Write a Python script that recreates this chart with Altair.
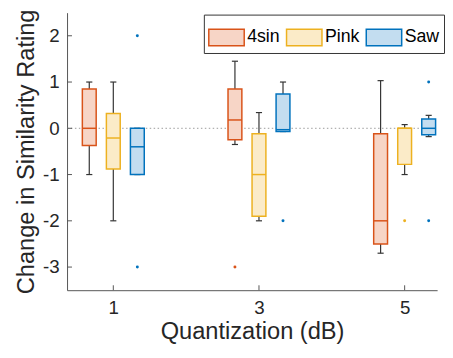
import altair as alt
import pandas as pd

# ---- data ----
groups = [1, 3, 5]
types = ["4sin", "Pink", "Saw"]
# per (group, type): lower whisker, q1, median, q3, upper whisker
lo_whisk = {"4sin": [-1.0, -0.35, -2.7], "Pink": [-2.0, -2.0, -1.0], "Saw": [-1.0, -0.07, -0.18]}
q1_vals = {"4sin": [-0.37, -0.25, -2.5], "Pink": [-0.88, -1.9, -0.78], "Saw": [-1.0, -0.07, -0.14]}
med_vals = {"4sin": [0.0, 0.18, -2.0], "Pink": [-0.21, -1.0, 0.0], "Saw": [-0.4, -0.03, 0.0]}
q3_vals = {"4sin": [0.85, 0.85, -0.12], "Pink": [0.32, -0.12, 0.0], "Saw": [0.0, 0.74, 0.2]}
hi_whisk = {"4sin": [1.0, 1.45, 1.03], "Pink": [1.0, 0.34, 0.08], "Saw": [0.0, 1.0, 0.28]}
out_group = [1, 1, 3, 3, 5, 5, 5]
out_type = ["Saw", "Saw", "4sin", "Saw", "Pink", "Saw", "Saw"]
out_value = [2.0, -3.0, -3.0, -2.0, -2.0, 1.0, -2.0]
y_ticks = [-3, -2, -1, 0, 1, 2]
x_ticks = [1, 3, 5]

edge_colors = ["#D95319", "#EDB120", "#0072BD"]
fill_colors = ["#F7D5C6", "#FBEBC8", "#C3DDF0"]

# ---- layout helpers ----
offset = {"4sin": -0.33, "Pink": 0.0, "Saw": 0.33}
hw = 0.095   # half box width (x units)
cw = 0.042   # half cap width

rows = []
for t in types:
    for i, g in enumerate(groups):
        c = g + offset[t]
        rows.append(dict(type=t, c=c, l=c - hw, r=c + hw, cl=c - cw, cr=c + cw,
                         lo=lo_whisk[t][i], q1=q1_vals[t][i], med=med_vals[t][i],
                         q3=q3_vals[t][i], hi=hi_whisk[t][i]))
df = pd.DataFrame(rows)
dout = pd.DataFrame({"type": out_type,
                     "x": [g + offset[t] for g, t in zip(out_group, out_type)],
                     "v": out_value})

W, H = 376, 282
xs = alt.Scale(domain=[0.365, 5.446], nice=False, zero=False)
ys = alt.Scale(domain=[-3.5, 2.5], nice=False, zero=False)
FONT = "Liberation Sans"
TXT = "#262626"

base = alt.Chart(df)

zero = alt.Chart(pd.DataFrame({"z": [0]})).mark_rule(
    color="#9a9a9a", strokeDash=[1.5, 2.5], strokeWidth=1
).encode(y=alt.Y("z:Q", scale=ys), x=alt.value(0), x2=alt.value(W))

whisk_lo = base.mark_rule(color="#333333", strokeWidth=1.2).encode(
    x=alt.X("c:Q", scale=xs, axis=alt.Axis(values=x_ticks, title="Quantization (dB)",
                                          labelExpr="'' + datum.value",
                                          tickSize=0, labelPadding=9, titlePadding=2,
                                          domainColor="#555555", grid=False,
                                          labelFontSize=19, titleFontSize=24,
                                          labelFont=FONT, titleFont=FONT,
                                          labelColor=TXT, titleColor=TXT, titleFontWeight="normal")),
    y=alt.Y("lo:Q", scale=ys, axis=alt.Axis(values=y_ticks, title="Change in Similarity Rating",
                                           labelExpr="'' + datum.value",
                                           tickSize=0, labelPadding=8, titlePadding=4,
                                           domainColor="#555555", grid=False,
                                           labelFontSize=19, titleFontSize=24,
                                           labelFont=FONT, titleFont=FONT,
                                           labelColor=TXT, titleColor=TXT, titleFontWeight="normal")),
    y2="q1:Q",
)
whisk_hi = base.mark_rule(color="#333333", strokeWidth=1.2).encode(
    x=alt.X("c:Q", scale=xs), y=alt.Y("q3:Q", scale=ys), y2="hi:Q")
cap_lo = base.mark_rule(color="#333333", strokeWidth=1.2).encode(
    x=alt.X("cl:Q", scale=xs), x2="cr:Q", y=alt.Y("lo:Q", scale=ys))
cap_hi = base.mark_rule(color="#333333", strokeWidth=1.2).encode(
    x=alt.X("cl:Q", scale=xs), x2="cr:Q", y=alt.Y("hi:Q", scale=ys))

sym = "M-1,-0.47L1,-0.47L1,0.47L-1,0.47Z"
legend = alt.Legend(title=None, orient="none", legendX=139, legendY=2, direction="horizontal",
                    columns=3, symbolType=sym, symbolSize=1296, symbolStrokeWidth=1.5,
                    labelFontSize=18, labelFont=FONT, labelColor="#000000", labelOffset=2,
                    columnPadding=3, padding=4, strokeColor="#333333", fillColor="white",
                    labelLimit=100)

boxes = base.mark_rect(strokeWidth=1.5).encode(
    x=alt.X("l:Q", scale=xs), x2="r:Q",
    y=alt.Y("q1:Q", scale=ys), y2="q3:Q",
    fill=alt.Fill("type:N", scale=alt.Scale(domain=types, range=fill_colors), legend=legend),
    stroke=alt.Stroke("type:N", scale=alt.Scale(domain=types, range=edge_colors), legend=legend),
)
medians = base.mark_rule(strokeWidth=1.5).encode(
    x=alt.X("l:Q", scale=xs), x2="r:Q", y=alt.Y("med:Q", scale=ys),
    stroke=alt.Stroke("type:N", scale=alt.Scale(domain=types, range=edge_colors), legend=legend),
)
outs = alt.Chart(dout).mark_circle(size=9, opacity=1).encode(
    x=alt.X("x:Q", scale=xs), y=alt.Y("v:Q", scale=ys),
    color=alt.Color("type:N", scale=alt.Scale(domain=types, range=edge_colors), legend=None),
)

ytk = alt.Chart(pd.DataFrame({"t": y_ticks})).mark_rule(color="#555555", strokeWidth=1).encode(
    y=alt.Y("t:Q", scale=ys), x=alt.value(0), x2=alt.value(5))
xtk = alt.Chart(pd.DataFrame({"t": x_ticks})).mark_rule(color="#555555", strokeWidth=1).encode(
    x=alt.X("t:Q", scale=xs), y=alt.value(H), y2=alt.value(H - 5))

chart = alt.layer(zero, whisk_lo, whisk_hi, cap_lo, cap_hi, boxes, medians, outs, ytk, xtk).properties(
    width=W, height=H,
    autosize=alt.AutoSizeParams(type="none"),
    padding={"left": 60, "top": 2, "right": 8, "bottom": 56},
).resolve_scale(fill="shared", stroke="shared").configure_view(stroke=None).configure_axis(
    domainWidth=1
)

chart.save("out.html", embed_options={"renderer": "svg", "actions": False})
